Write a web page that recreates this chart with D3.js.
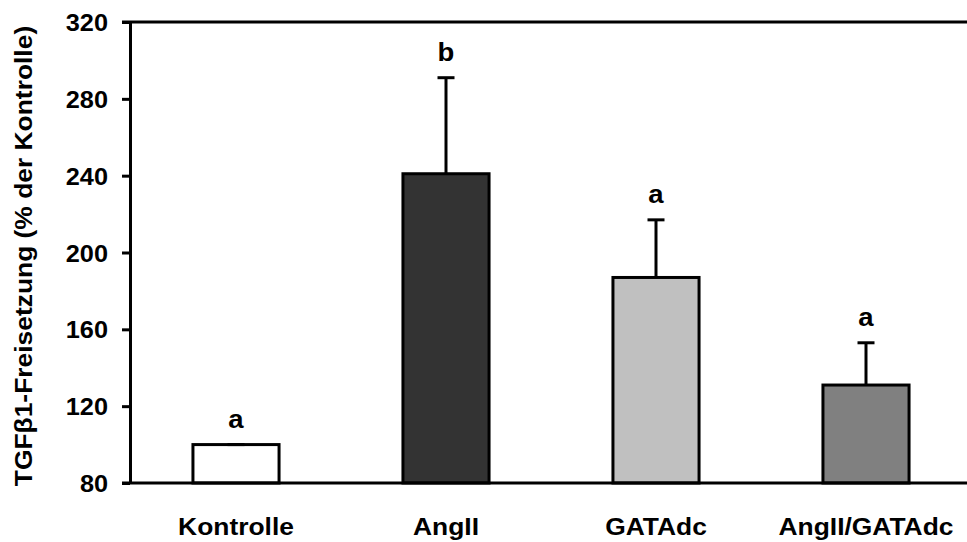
<!DOCTYPE html>
<html>
<head>
<meta charset="utf-8">
<script src="https://cdn.jsdelivr.net/npm/d3@7"></script>
<style>
  body { margin: 0; background: #fff; }
  text { font-family: "Liberation Sans", Arial, sans-serif; font-weight: bold; fill: #000; }
</style>
</head>
<body>
<div id="chart"></div>
<script>
const groups = ['Kontrolle', 'AngII', 'GATAdc', 'AngII/GATAdc'];
const means = [100, 241, 187, 131];
const errors = [0, 50, 30, 22];
const letters = ['a', 'b', 'a', 'a'];
const fills = ['#ffffff', '#333333', '#c0c0c0', '#808080'];
const yTicks = [80, 120, 160, 200, 240, 280, 320];

const W = 967, H = 542;
const svg = d3.select('#chart').append('svg')
  .attr('width', W)
  .attr('height', H);

const x = d3.scaleBand()
  .domain(groups)
  .range([131, 971])
  .paddingInner(0.59)
  .paddingOuter(0.295);

const y = d3.scaleLinear()
  .domain([80, 320])
  .range([483, 22]);

const stretch = 1.1;

// y axis
const yAxis = svg.append('g')
  .attr('transform', 'translate(130,0)')
  .call(d3.axisLeft(y).tickValues(yTicks).tickSize(8).tickSizeOuter(0));
yAxis.select('.domain').attr('stroke', '#000').attr('stroke-width', 3);
yAxis.selectAll('.tick line').attr('stroke', '#000').attr('stroke-width', 3);
yAxis.selectAll('.tick text')
  .attr('x', null).attr('dy', null)
  .style('font-size', '23px')
  .style('font-family', '"Liberation Sans", Arial, sans-serif')
  .style('font-weight', 'bold')
  .attr('text-anchor', 'end')
  .attr('transform', 'translate(-22,8.5) scale(' + stretch + ',1)');

// frame line at top
svg.append('line')
  .attr('x1', 122).attr('x2', W)
  .attr('y1', y(320)).attr('y2', y(320))
  .attr('stroke', '#000').attr('stroke-width', 3);

// bars
svg.selectAll('rect.bar')
  .data(groups)
  .enter()
  .append('rect')
  .attr('class', 'bar')
  .attr('x', d => x(d))
  .attr('y', (d, i) => y(means[i]))
  .attr('width', x.bandwidth())
  .attr('height', (d, i) => y(80) - y(means[i]))
  .attr('fill', (d, i) => fills[i])
  .attr('stroke', '#000')
  .attr('stroke-width', 3);

// error bars
const err = svg.selectAll('g.err')
  .data(groups)
  .enter()
  .append('g')
  .attr('class', 'err');
err.append('line')
  .attr('x1', d => x(d) + x.bandwidth() / 2)
  .attr('x2', d => x(d) + x.bandwidth() / 2)
  .attr('y1', (d, i) => y(means[i]))
  .attr('y2', (d, i) => y(means[i] + errors[i]))
  .attr('stroke', '#000').attr('stroke-width', 3);
err.append('line')
  .attr('x1', d => x(d) + x.bandwidth() / 2 - 8.5)
  .attr('x2', d => x(d) + x.bandwidth() / 2 + 8.5)
  .attr('y1', (d, i) => y(means[i] + errors[i]))
  .attr('y2', (d, i) => y(means[i] + errors[i]))
  .attr('stroke', '#000').attr('stroke-width', 3);

// significance letters
svg.selectAll('text.sig')
  .data(groups)
  .enter()
  .append('text')
  .attr('class', 'sig')
  .attr('text-anchor', 'middle')
  .style('font-size', '25px')
  .attr('transform', (d, i) => 'translate(' + (x(d) + x.bandwidth() / 2) + ',' +
    (y(means[i] + errors[i]) - 17) + ') scale(' + stretch + ',1)')
  .text((d, i) => letters[i]);

// bottom axis line (over the bars)
svg.append('line')
  .attr('x1', 122).attr('x2', W)
  .attr('y1', y(80)).attr('y2', y(80))
  .attr('stroke', '#000').attr('stroke-width', 3);

// x labels
svg.selectAll('text.xlab')
  .data(groups)
  .enter()
  .append('text')
  .attr('class', 'xlab')
  .attr('text-anchor', 'middle')
  .style('font-size', '24px')
  .attr('transform', d => 'translate(' + (x(d) + x.bandwidth() / 2) + ',535) scale(' + stretch + ',1)')
  .text(d => d);

// y title
svg.append('text')
  .attr('text-anchor', 'middle')
  .style('font-size', '24px')
  .attr('transform', 'translate(32,256) rotate(-90) scale(' + stretch + ',1)')
  .text('TGFβ1-Freisetzung (% der Kontrolle)');
</script>
</body>
</html>
